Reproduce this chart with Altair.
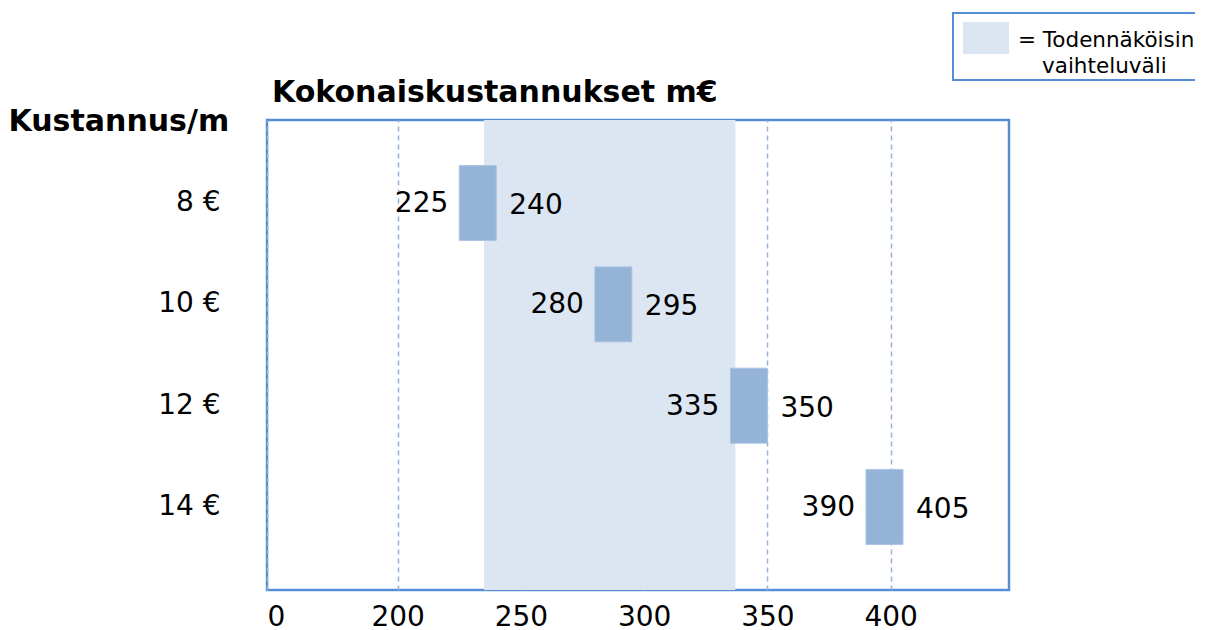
import altair as alt
import pandas as pd

# ---- data ----
costs = ["8 €", "10 €", "12 €", "14 €"]
low_values = [225, 280, 335, 390]
high_values = [240, 295, 350, 405]
likely_range = [235, 337]
x_domain = [147, 448]
x_tick_values = [147, 200, 250, 300, 350, 400]
x_tick_labels = ["0", "200", "250", "300", "350", "400"]
title_x = "Kokonaiskustannukset m€"
title_y = "Kustannus/m"
legend_lines = ["= Todennäköisin", "vaihteluväli"]

FONT = "DejaVu Sans"
BAR = "#95B3D7"
BAND = "#DCE6F2"
FRAME = "#558ED5"

df = pd.DataFrame({"cost": costs, "low": low_values, "high": high_values})
band_df = pd.DataFrame({"start": [likely_range[0]], "end": [likely_range[1]]})
one = pd.DataFrame({"k": [0]})

# tick label expression built from the tick lists
expr = "datum.label"
for v, l in reversed(list(zip(x_tick_values, x_tick_labels))):
    expr = f"datum.value == {v} ? '{l}' : ({expr})"

x_scale = alt.Scale(domain=x_domain, nice=False, zero=False)
x_axis = alt.Axis(
    values=x_tick_values, labelExpr=expr, grid=True, gridDash=[5, 4],
    gridColor=BAR, gridWidth=1.5, ticks=False, domain=False,
    labelFontSize=28, labelFont=FONT, labelColor="black", labelPadding=13,
    title=None,
)
y_scale = alt.Scale(paddingInner=0.26, paddingOuter=0.45)
y_axis = alt.Axis(
    ticks=False, domain=False, grid=False, labelFontSize=28, labelFont=FONT,
    labelColor="black", labelPadding=47,
    title=title_y, titleAngle=0, titleAlign="left", titleBaseline="alphabetic",
    titleX=-259, titleY=10, titleFontSize=30, titleFont=FONT,
    titleFontWeight="bold", titleColor="black",
)
y_enc = alt.Y("cost:N", sort=costs, scale=y_scale, axis=y_axis)

band = alt.Chart(band_df).mark_rect(color=BAND).encode(
    x=alt.X("start:Q", scale=x_scale, axis=x_axis), x2="end:Q"
)
bars = alt.Chart(df).mark_bar(color=BAR, stroke="#A9C4E4", strokeWidth=1).encode(
    x=alt.X("low:Q", scale=x_scale, axis=x_axis), x2="high:Q", y=y_enc
)
left_txt = alt.Chart(df).mark_text(
    align="right", baseline="middle", dx=-11, dy=1, fontSize=28, font=FONT, color="black"
).encode(x=alt.X("low:Q", scale=x_scale, axis=x_axis), y=y_enc, text="low:Q")
right_txt = alt.Chart(df).mark_text(
    align="left", baseline="middle", dx=13, dy=3, fontSize=28, font=FONT, color="black"
).encode(x=alt.X("high:Q", scale=x_scale, axis=x_axis), y=y_enc, text="high:Q")

# chart heading above the plot
heading = alt.Chart(one).mark_text(
    align="left", baseline="alphabetic", fontSize=30, font=FONT,
    fontWeight="bold", color="black"
).encode(x=alt.value(5), y=alt.value(-18), text=alt.value(title_x))

# legend (decoration, outside the plot area)
leg_box = alt.Chart(one).mark_rect(fill="white", stroke=FRAME, strokeWidth=2).encode(
    x=alt.value(686), x2=alt.value(960), y=alt.value(-107), y2=alt.value(-40)
)
leg_swatch = alt.Chart(one).mark_rect(fill=BAND).encode(
    x=alt.value(696), x2=alt.value(742), y=alt.value(-98), y2=alt.value(-66)
)
leg_t1 = alt.Chart(one).mark_text(
    align="left", baseline="alphabetic", fontSize=21.5, font=FONT, color="black"
).encode(x=alt.value(751), y=alt.value(-73), text=alt.value(legend_lines[0]))
leg_t2 = alt.Chart(one).mark_text(
    align="left", baseline="alphabetic", fontSize=21.5, font=FONT, color="black"
).encode(x=alt.value(775), y=alt.value(-47), text=alt.value(legend_lines[1]))

chart = alt.layer(
    band, bars, left_txt, right_txt, heading, leg_box, leg_swatch, leg_t1, leg_t2
).properties(
    width=742, height=470,
    autosize=alt.AutoSizeParams(type="none"),
    padding={"left": 259, "top": 112, "right": 186, "bottom": 40},
).configure(
    background="white",
    view=alt.ViewConfig(stroke=FRAME, strokeWidth=2.5),
)

chart.save("out.html", embed_options={"renderer": "svg", "actions": False})
